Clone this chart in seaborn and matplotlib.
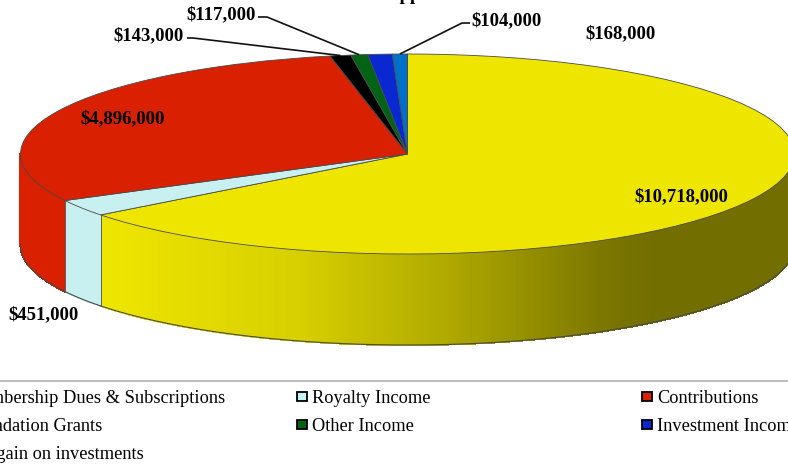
import numpy as np
import matplotlib
matplotlib.use("Agg")
import matplotlib.pyplot as plt
from matplotlib.collections import PolyCollection
from matplotlib.patches import Rectangle
import seaborn as sns

# Revenue sources, in the order they run clockwise from twelve o'clock
categories = ["Membership Dues & Subscriptions", "Royalty Income", "Contributions",
              "Foundation Grants", "Other Income", "Investment Income",
              "Net gain on investments"]
amounts = [10718000, 451000, 4896000, 143000, 117000, 168000, 104000]
slice_colors = ["#efe600", "#c8f0f0", "#d92000", "#000000", "#006414", "#0a28d2", "#0070c8"]

sns.set_theme(style="white")
plt.rcParams["font.family"] = ["Liberation Serif", "DejaVu Serif"]
palette = sns.color_palette(slice_colors)

W, H = 788, 465
fig = plt.figure(figsize=(W / 100, H / 100), dpi=100)
ax = fig.add_axes([0, 0, 1, 1])

# Disc geometry in pixels; the axes are scaled so the unit circle becomes a flat ellipse
CX, CY, RX, RY, DEPTH = 407.5, 154, 387, 100, 91
px = lambda x: (x - CX) / RX
py = lambda y: (CY - y) / RY
EDGE = "#4a4a4a"

ax.pie(amounts, colors=palette, startangle=90, counterclock=False, radius=1, frame=True,
       wedgeprops=dict(edgecolor=EDGE, linewidth=0.6))
ax.set_aspect("auto")
ax.set_xlim(px(0), px(W))
ax.set_ylim(py(H), py(0))
ax.set_xticks([])
ax.set_yticks([])
sns.despine(ax=ax, left=True, bottom=True)


def side_shade(x_pixel):
    # Lighting across the disc wall: bright at left, falling to olive on the right
    return np.interp(x_pixel, [100, 300, 450, 600, 650], [1.0, 0.9, 0.73, 0.52, 0.48])


# Wall of the disc: only the part of each slice on the near half is visible
fractions = np.array(amounts) / sum(amounts)
edges = np.concatenate([[0], np.cumsum(fractions)]) * 2 * np.pi
depth_units = DEPTH / RY
for start, stop, color in zip(edges[:-1], edges[1:], palette):
    lo, hi = max(start, np.pi / 2), min(stop, 3 * np.pi / 2)
    if hi <= lo:
        continue
    theta = np.linspace(lo, hi, max(int((hi - lo) * 90), 2))
    xs, ys = np.sin(theta), np.cos(theta)
    quads, shades = [], []
    for i in range(len(theta) - 1):
        quads.append([(xs[i], ys[i]), (xs[i + 1], ys[i + 1]),
                      (xs[i + 1], ys[i + 1] - depth_units), (xs[i], ys[i] - depth_units)])
        f = side_shade(CX + RX * 0.5 * (xs[i] + xs[i + 1]))
        shades.append(tuple(np.array(color) * f))
    ax.add_collection(PolyCollection(quads, facecolors=shades, edgecolors=shades,
                                     linewidths=0.8, antialiaseds=False, zorder=0.5))
    # Seams and lower rim
    ax.plot(xs, ys - depth_units, color=EDGE, lw=0.8, zorder=0.6)
    for t in (lo, hi):
        if np.pi / 2 < t < 3 * np.pi / 2:
            ax.plot([np.sin(t)] * 2, [np.cos(t), np.cos(t) - depth_units],
                    color="#606060", lw=0.7, zorder=0.6)

# Value labels
value_labels = ["$10,718,000", "$451,000", "$4,896,000", "$143,000", "$117,000", "$168,000", "$104,000"]
label_xy = [(681, 197), (44, 315), (123, 119), (148, 36), (221, 15), (621, 34), (506, 21)]
for text, (x, y) in zip(value_labels, label_xy):
    ax.text(px(x), py(y), text, ha="center", va="center", fontsize=13.5,
            fontweight="bold", color="black", zorder=5)

# Leader lines run from beside the label, through an elbow, to the slice's outer edge
leaders = {3: [(187, 38), (193, 38)], 4: [(258, 17), (267, 17)], 6: [(470, 23), (462, 23)]}
mid = 0.5 * (edges[:-1] + edges[1:])
for idx, pts in leaders.items():
    xs = [px(p[0]) for p in pts] + [np.sin(mid[idx])]
    ys = [py(p[1]) for p in pts] + [np.cos(mid[idx])]
    ax.plot(xs, ys, color="#111111", lw=1.2, zorder=4, solid_capstyle="butt")

# Title sits almost entirely above the top edge of the canvas
ax.text(px(412), py(0), "Support", ha="center", va="baseline", fontsize=13.5,
        fontweight="bold", color="black", clip_on=False)

# Legend rule and entries
ax.plot([px(0), px(W)], [py(380.5)] * 2, color="#bdbdbd", lw=1.4)
legend_cols = [-35, 312, 657]
legend_rows = [398, 426, 454]
for i, (name, color) in enumerate(zip(categories, palette)):
    x, y = legend_cols[i % 3], legend_rows[i // 3]
    ax.text(px(x), py(y), name, ha="left", va="center", fontsize=13.2, color="black")
    ax.add_patch(Rectangle((px(x - 15), py(y + 3)), 10 / RX, 9 / RY, facecolor=color,
                           edgecolor="black", linewidth=1.3, zorder=3))

fig.savefig("out.png", dpi=100)
